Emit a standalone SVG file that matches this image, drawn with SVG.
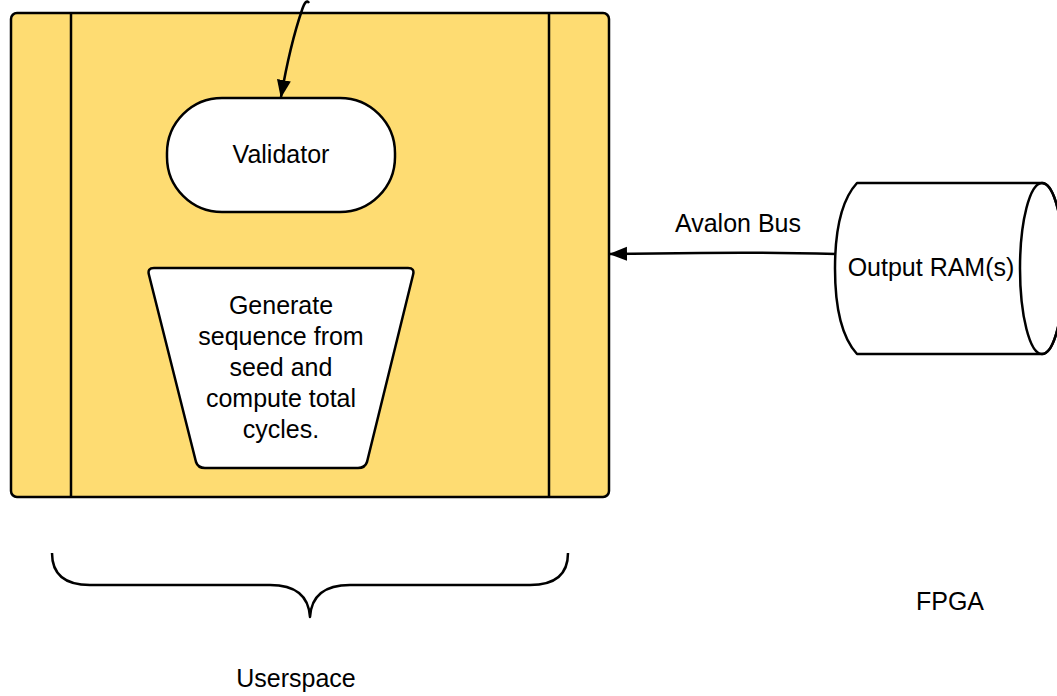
<svg xmlns="http://www.w3.org/2000/svg" width="1057" height="696" viewBox="0 0 1057 696">
<defs>
<style>
.s{stroke:#000;stroke-width:2.5;fill:none;stroke-linejoin:round}
.w{fill:#fff;stroke:#000;stroke-width:2.5;stroke-linejoin:round}
text{font-family:"Liberation Sans",Arial,sans-serif;font-size:25px;fill:#000;text-anchor:middle}
</style>
<marker id="ah" markerWidth="18" markerHeight="16" viewBox="0 0 18 16" refX="17" refY="8" orient="auto" markerUnits="userSpaceOnUse">
<path d="M0,1 L18,8 L0,15 z" fill="#000"/>
</marker>
</defs>
<rect width="1057" height="696" fill="#fff"/>
<g id="userspace">
<rect x="11" y="13" width="598" height="484" rx="6" fill="#FEDC72" stroke="#000" stroke-width="2.5"/>
<line x1="71" y1="13" x2="71" y2="497" class="s"/>
<line x1="549" y1="13" x2="549" y2="497" class="s"/>
</g>
<g id="validator">
<rect x="167" y="98" width="228" height="114" rx="55" ry="55" class="w"/>
<text x="281" y="163">Validator</text>
</g>
<g id="generate">
<path d="M154,268 L408,268 Q415,268 413,275 L367,462 Q365,468 358,468 L205,468 Q198,468 196,462 L149,275 Q147,268 154,268 Z" class="w"/>
<text x="281" y="314">Generate</text>
<text x="281" y="345">sequence from</text>
<text x="281" y="376">seed and</text>
<text x="281" y="407">compute total</text>
<text x="281" y="438">cycles.</text>
</g>
<g id="ram">
<path d="M857,183 L1042,183 A22,85.5 0 0 1 1042,354 L857,354 Q835,330 835,268.5 Q835,207 857,183 Z" class="w"/>
<ellipse cx="1042" cy="268.5" rx="22" ry="85.5" class="s"/>
<text x="931" y="276">Output RAM(s)</text>
</g>
<g id="brace">
<path d="M52,553 Q52,585 90,585 L270,585 Q308,585 310,617 Q312,585 350,585 L530,585 Q568,585 568,553" class="s"/>
</g>
<g id="labels">
<text x="296" y="687">Userspace</text>
<text x="950" y="610">FPGA</text>
</g>
<g id="connectors">
<path d="M309,3 Q306,-2 302,10 Q290,45 281,97" class="s" marker-end="url(#ah)"/>
<path d="M836,254 Q760,252 700,253 L610,254" class="s" marker-end="url(#ah)"/>
<text x="738" y="232">Avalon Bus</text>
</g>
</svg>
